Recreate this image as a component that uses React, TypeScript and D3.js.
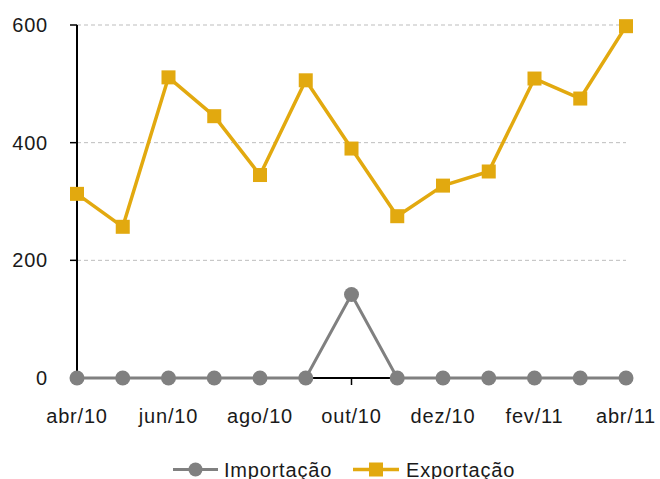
import React, { useEffect } from "react";
import * as d3 from "d3";

const months = ["abr/10", "mai/10", "jun/10", "jul/10", "ago/10", "set/10", "out/10", "nov/10", "dez/10", "jan/11", "fev/11", "mar/11", "abr/11"];
const importacao = [0, 0, 0, 0, 0, 0, 142, 0, 0, 0, 0, 0, 0];
const exportacao = [313, 257, 511, 445, 345, 506, 390, 275, 327, 351, 509, 475, 598];
const yTicks = [0, 200, 400, 600];
const xLabelEvery = 2;

const W = 660;
const H = 479;
const FONT = "'Liberation Sans', Arial, sans-serif";
const GOLD = "#E2A90F";
const GRAY = "#808080";

export default function App() {
  useEffect(() => {
    document.body.style.margin = "0";
  }, []);

  const x = d3.scalePoint<string>().domain(months).range([77, 626]);
  const y = d3.scaleLinear().domain([0, 600]).range([378, 25]);

  const line = d3
    .line<number>()
    .x((_, i) => x(months[i]) as number)
    .y((d) => y(d));

  const x0 = x(months[0]) as number;
  const x1 = x(months[months.length - 1]) as number;

  return (
    <svg width={W} height={H} style={{ display: "block" }} fontFamily={FONT}>
      <rect width={W} height={H} fill="#fff" />
      {yTicks
        .filter((t) => t > 0)
        .map((t) => (
          <line key={"g" + t} x1={x0} x2={x1} y1={y(t)} y2={y(t)} stroke="#bdbdbd" strokeWidth={1} strokeDasharray="4 3" />
        ))}
      {/* y axis */}
      <line x1={x0} x2={x0} y1={y(600)} y2={y(0)} stroke="#000" strokeWidth={2} />
      {yTicks.map((t) => (
        <g key={"yt" + t}>
          <line x1={x0 - 7} x2={x0} y1={y(t)} y2={y(t)} stroke="#000" strokeWidth={1.5} />
          <text x={48} y={y(t) + 7} textAnchor="end" fontSize={20} letterSpacing={0.8} fill="#1a1a1a">
            {t}
          </text>
        </g>
      ))}
      {/* x axis */}
      <line x1={x0} x2={x1} y1={y(0)} y2={y(0)} stroke="#000" strokeWidth={2} />
      {months.map((m, i) => (
        <g key={"xt" + m + i}>
          <line x1={x(m)} x2={x(m)} y1={y(0)} y2={y(0) + 7} stroke="#000" strokeWidth={1.5} />
          {i % xLabelEvery === 0 && (
            <text x={x(m)} y={423} textAnchor="middle" fontSize={20} letterSpacing={0.8} fill="#1a1a1a">
              {m}
            </text>
          )}
        </g>
      ))}
      {/* Importação */}
      <path d={line(importacao) || ""} fill="none" stroke={GRAY} strokeWidth={3} strokeLinejoin="round" />
      {importacao.map((v, i) => (
        <circle key={"ic" + i} cx={x(months[i])} cy={y(v)} r={7.5} fill={GRAY} />
      ))}
      {/* Exportação */}
      <path d={line(exportacao) || ""} fill="none" stroke={GOLD} strokeWidth={3.5} strokeLinejoin="round" />
      {exportacao.map((v, i) => (
        <rect key={"er" + i} x={(x(months[i]) as number) - 7} y={y(v) - 7} width={14} height={14} fill={GOLD} />
      ))}
      {/* Legend */}
      <g>
        <line x1={173} x2={218} y1={469.5} y2={469.5} stroke={GRAY} strokeWidth={3} />
        <circle cx={195.5} cy={469.5} r={7} fill={GRAY} />
        <text x={224} y={477} fontSize={20} letterSpacing={0.8} fill="#1a1a1a">
          Importação
        </text>
        <line x1={353} x2={399} y1={469.5} y2={469.5} stroke={GOLD} strokeWidth={3.5} />
        <rect x={369} y={462.5} width={14} height={14} fill={GOLD} />
        <text x={406} y={477} fontSize={20} letterSpacing={0.8} fill="#1a1a1a">
          Exportação
        </text>
      </g>
    </svg>
  );
}
